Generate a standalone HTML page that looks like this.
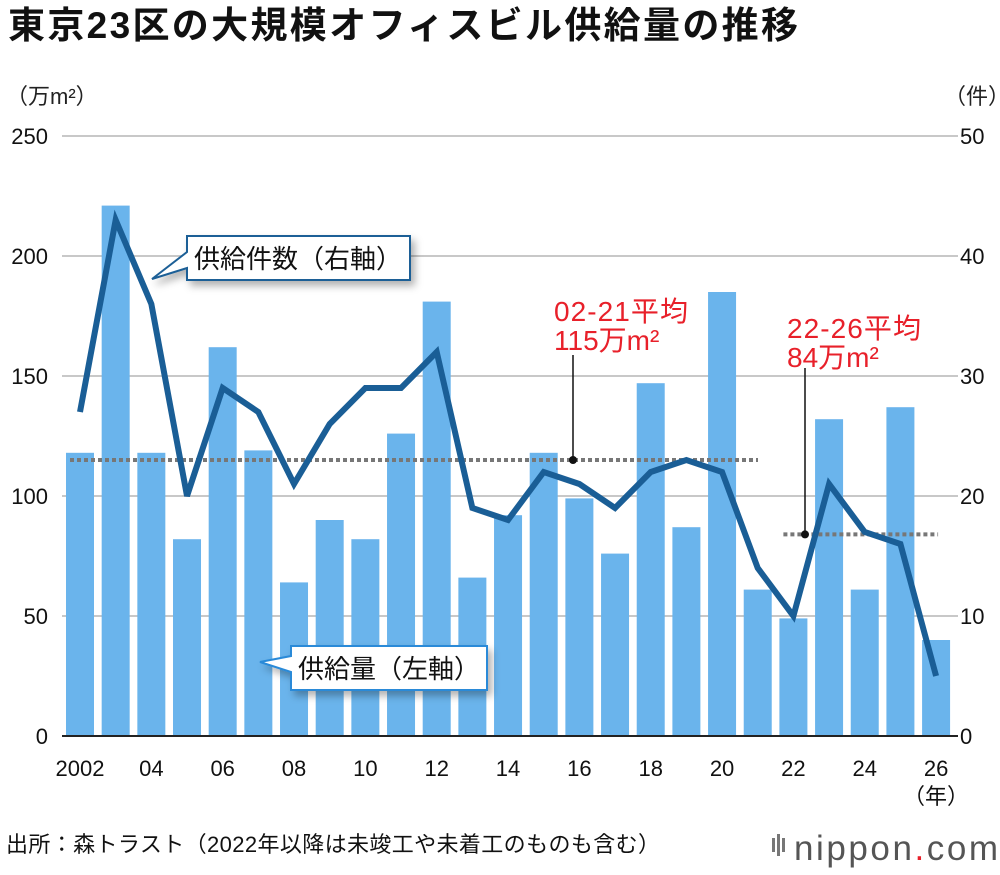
<!DOCTYPE html>
<html><head><meta charset="utf-8">
<style>
body{margin:0;background:#fff;font-family:"Liberation Sans","Noto Sans CJK JP",sans-serif;}
svg text{font-family:"Liberation Sans","Noto Sans CJK JP",sans-serif;}
</style></head>
<body>
<svg id="chart" width="1000" height="870" viewBox="0 0 1000 870" xmlns="http://www.w3.org/2000/svg">
<defs>
<filter id="sh" x="-20%" y="-20%" width="150%" height="160%"><feDropShadow dx="4" dy="5" stdDeviation="4" flood-color="#000" flood-opacity="0.3"/></filter>
</defs>
<text x="8" y="38" font-size="37" font-weight="bold" fill="#111" textLength="790">東京23区の大規模オフィスビル供給量の推移</text>
<text x="6" y="104" font-size="22" fill="#222">（万m²）</text>
<text x="944" y="104" font-size="22" fill="#222">（件）</text>
<g id="grid"></g>
<g id="bars"></g>
<g id="avgs"></g>
<g id="line"></g>
<g id="axes"></g>
<g filter="url(#sh)">
<path d="M187,236 H410 V280 H187 V268 L152,279 L187,252 Z" fill="#fff" stroke="#1a5e96" stroke-width="2"/>
</g>
<text x="194" y="268" font-size="26" fill="#111" textLength="208">供給件数（右軸）</text>
<g filter="url(#sh)">
<path d="M291,646 H487 V690 H291 V672 L260,662 L291,656 Z" fill="#fff" stroke="#2a8ad8" stroke-width="2"/>
</g>
<text x="298" y="678" font-size="26" fill="#111" textLength="182">供給量（左軸）</text>
<text x="554" y="321" font-size="28" fill="#e8202a" textLength="134">02-21平均</text>
<text x="554" y="350" font-size="28" fill="#e8202a">115万m²</text>
<text x="787" y="338" font-size="28" fill="#e8202a" textLength="134">22-26平均</text>
<text x="787" y="367" font-size="28" fill="#e8202a">84万m²</text>
<text x="6" y="852" font-size="22" fill="#111" textLength="654">出所：森トラスト（2022年以降は未竣工や未着工のものも含む）</text>
<text x="794" y="860" font-size="35" fill="#555" textLength="204">nippon<tspan fill="#e8202a">.</tspan>com</text>
<g fill="#777"><rect x="772" y="838" width="3" height="14"/><rect x="777" y="834" width="3" height="22"/><rect x="782" y="838" width="3" height="14"/></g>
</svg>
<script>
const years=[2002,2003,2004,2005,2006,2007,2008,2009,2010,2011,2012,2013,2014,2015,2016,2017,2018,2019,2020,2021,2022,2023,2024,2025,2026];
const supply=[118,221,118,82,162,119,64,90,82,126,181,66,92,118,99,76,147,87,185,61,49,132,61,137,40];
const counts=[27,43,36,20,29,27,21,26,29,29,32,19,18,22,21,19,22,23,22,14,10,21,17,16,5];
const leftTicks=[0,50,100,150,200,250];
const rightTicks=[0,10,20,30,40,50];
const xLabels=["2002","04","06","08","10","12","14","16","18","20","22","24","26"];
const avgs=[{v:115,from:2002,to:2021},{v:84,from:2022,to:2026}];
const NS="http://www.w3.org/2000/svg";
const X0=80,DX=35.67,Y0=736;
const x=y=>X0+(y-2002)*DX;
const yl=v=>Y0-v*2.4;
const yr=v=>Y0-v*12;
function mk(t,a,p){const e=document.createElementNS(NS,t);for(const k in a)e.setAttribute(k,a[k]);p.appendChild(e);return e;}
const grid=document.getElementById('grid'),axes=document.getElementById('axes');
leftTicks.forEach((t,i)=>{
 if(t>0){const g=mk('line',{x1:62,x2:958,y1:yl(t),y2:yl(t),stroke:'#c8c8c8','stroke-width':2},grid);
 
 }
 const a=mk('text',{x:48,y:yl(t)+8,'font-size':22,'text-anchor':'end',fill:'#111'},axes);a.textContent=t;
 
 
 const b=mk('text',{x:960,y:yr(rightTicks[i])+8,'font-size':22,fill:'#111'},axes);b.textContent=rightTicks[i];
 
 
});
const bl=mk('line',{x1:62,x2:958,y1:Y0,y2:Y0,stroke:'#222','stroke-width':2},axes);


xLabels.forEach((l,i)=>{
 const yr2=2002+i*2;
 const t=mk('text',{x:x(yr2),y:776,'font-size':22,'text-anchor':'middle',fill:'#111'},axes);t.textContent=l;
 
 
});
const yu=mk('text',{x:936,y:804,'font-size':22,'text-anchor':'middle',fill:'#111'},axes);yu.textContent='（年）';


const bars=document.getElementById('bars');
years.forEach((yy,i)=>{
 const r=mk('rect',{x:x(yy)-14,y:yl(supply[i]),width:28,height:Y0-yl(supply[i]),fill:'#6ab4ec'},bars);
 
 
});
const av=document.getElementById('avgs');
avgs.forEach((a,i)=>{
 const x1=x(a.from)-10,x2=(i==0?758:x(a.to)+2);
 const l=mk('line',{x1:x1,x2:x2,y1:yl(a.v),y2:yl(a.v),stroke:'#777','stroke-width':4,'stroke-dasharray':'4 3'},av);
 
 
 const dx=i==0?573:805, ly=i==0?355:368;
 const ld=mk('line',{x1:dx,x2:dx,y1:ly,y2:yl(a.v),stroke:'#111','stroke-width':1.5},av);
 
 
 const c=mk('circle',{cx:dx,cy:yl(a.v),r:4,fill:'#111'},av);
 
 
});
const pts=years.map((yy,i)=>x(yy)+','+yr(counts[i])).join(' ');
const pl=mk('polyline',{points:pts,fill:'none',stroke:'#1a5e96','stroke-width':6,'stroke-linejoin':'miter'},document.getElementById('line'));


</script>
</body></html>
